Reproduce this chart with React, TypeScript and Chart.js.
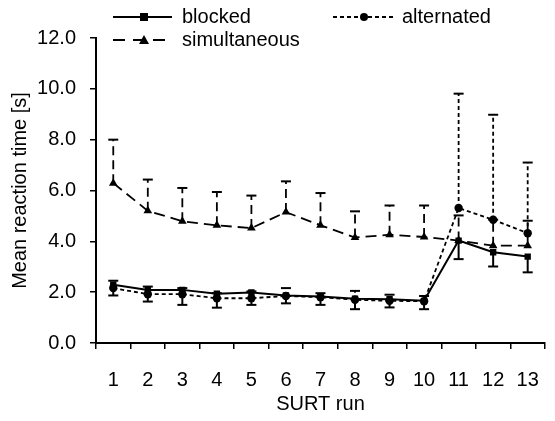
import React, { useEffect, useRef } from "react";
import { Chart, registerables } from "chart.js";

Chart.register(...registerables);

const runs = ["1", "2", "3", "4", "5", "6", "7", "8", "9", "10", "11", "12", "13"];
const blocked = [2.29, 2.09, 2.09, 1.94, 1.99, 1.87, 1.83, 1.74, 1.72, 1.66, 4.03, 3.57, 3.4];
const blockedLower = [1.87, 1.63, 1.5, 1.39, 1.5, 1.56, 1.5, 1.33, 1.4, 1.33, 3.3, 3.01, 2.78];
const alternated = [2.16, 1.92, 1.92, 1.76, 1.76, 1.85, 1.8, 1.7, 1.66, 1.64, 5.31, 4.85, 4.32];
const alternatedUpper = [2.45, 2.22, 2.16, 1.96, 2.03, 2.16, 1.96, 2.05, 1.9, 1.85, 9.81, 8.98, 7.1];
const simultaneous = [6.29, 5.2, 4.79, 4.63, 4.52, 5.15, 4.63, 4.15, 4.26, 4.17, 4.03, 3.83, 3.83];
const simultaneousUpper = [8.0, 6.43, 6.1, 5.94, 5.8, 6.36, 5.9, 5.18, 5.41, 5.41, 5.02, 4.85, 4.81];
const yMin = 0;
const yMax = 12;
const yStep = 2;

const FONT = "'Liberation Sans', Arial, sans-serif";
const FS = 20;

const errorBars = [
  { data: 0, ends: blockedLower, dash: [] as number[], width: 2 },
  { data: 1, ends: alternatedUpper, dash: [4, 3], width: 1.8 },
  { data: 2, ends: simultaneousUpper, dash: [9, 5], width: 1.8 },
];

const errorBarPlugin = {
  id: "errorBars",
  beforeDatasetsDraw(chart: any) {
    const { ctx, scales } = chart;
    const x = scales.x;
    const y = scales.y;
    ctx.save();
    ctx.strokeStyle = "#000";
    errorBars.forEach((eb) => {
      const vals = chart.data.datasets[eb.data].data as number[];
      vals.forEach((v, i) => {
        const px = x.getPixelForValue(i);
        const py0 = y.getPixelForValue(v);
        const py1 = y.getPixelForValue(eb.ends[i]);
        ctx.lineWidth = eb.width;
        ctx.setLineDash(eb.dash);
        ctx.beginPath();
        ctx.moveTo(px, py0);
        ctx.lineTo(px, py1);
        ctx.stroke();
        ctx.setLineDash([]);
        ctx.lineWidth = 2;
        ctx.beginPath();
        ctx.moveTo(px - 5, py1);
        ctx.lineTo(px + 5, py1);
        ctx.stroke();
      });
    });
    ctx.restore();
  },
};

const legendItems = [
  { label: "blocked", x: 113, y: 17, len: 59, dash: [] as number[], width: 2, style: "rect" },
  { label: "alternated", x: 333, y: 17, len: 62, dash: [4, 3], width: 1.8, style: "circle" },
  { label: "simultaneous", x: 113, y: 40, len: 60, dash: [12, 8], width: 1.8, style: "triangle" },
];

function drawMarker(ctx: CanvasRenderingContext2D, style: string, cx: number, cy: number) {
  ctx.fillStyle = "#000";
  ctx.beginPath();
  if (style === "rect") {
    ctx.rect(cx - 4, cy - 4, 8, 8);
  } else if (style === "circle") {
    ctx.arc(cx, cy, 4, 0, Math.PI * 2);
  } else {
    ctx.moveTo(cx, cy - 5);
    ctx.lineTo(cx + 5, cy + 4);
    ctx.lineTo(cx - 5, cy + 4);
    ctx.closePath();
  }
  ctx.fill();
}

const legendPlugin = {
  id: "customLegend",
  afterDraw(chart: any) {
    const { ctx } = chart;
    ctx.save();
    legendItems.forEach((it) => {
      ctx.strokeStyle = "#000";
      ctx.lineWidth = it.width;
      ctx.setLineDash(it.dash);
      ctx.beginPath();
      ctx.moveTo(it.x, it.y);
      ctx.lineTo(it.x + it.len, it.y);
      ctx.stroke();
      ctx.setLineDash([]);
      drawMarker(ctx, it.style, it.x + 31, it.y);
      ctx.fillStyle = "#000";
      ctx.font = `${FS}px ${FONT}`;
      ctx.textBaseline = "middle";
      ctx.textAlign = "left";
      ctx.fillText(it.label, it.x + 69, it.y);
    });
    ctx.restore();
  },
};

export default function App() {
  const ref = useRef<HTMLCanvasElement>(null);
  useEffect(() => {
    if (!ref.current) return;
    const common = {
      borderColor: "#000",
      pointBackgroundColor: "#000",
      pointBorderColor: "#000",
      pointBorderWidth: 0,
      tension: 0,
      fill: false,
    };
    const chart = new Chart(ref.current, {
      type: "line",
      data: {
        labels: runs,
        datasets: [
          { ...common, label: "blocked", data: blocked, borderWidth: 2, pointStyle: "rect", pointRadius: 4.5 },
          { ...common, label: "alternated", data: alternated, borderWidth: 1.8, borderDash: [4, 3], pointStyle: "circle", pointRadius: 4.2 },
          { ...common, label: "simultaneous", data: simultaneous, borderWidth: 1.8, borderDash: [11, 6], pointStyle: "triangle", pointRadius: 5 },
        ],
      },
      options: {
        responsive: false,
        devicePixelRatio: 1,
        animation: false,
        layout: { padding: { top: 38, right: 0, left: 0, bottom: 0 } },
        plugins: { legend: { display: false }, tooltip: { enabled: false } },
        scales: {
          x: {
            type: "category",
            offset: true,
            grid: { display: true, offset: true, drawOnChartArea: false, drawTicks: true, tickLength: 6, color: "#000", lineWidth: 1.5 },
            border: { display: true, color: "#000", width: 2 },
            ticks: { color: "#000", font: { family: FONT, size: FS }, padding: 19, maxRotation: 0, autoSkip: false },
            title: { display: true, text: "SURT run", color: "#000", font: { family: FONT, size: FS }, padding: { top: 0, bottom: 5 } },
            afterFit: (s: any) => { s.height = 78; },
          },
          y: {
            min: yMin,
            max: yMax,
            grid: { display: true, drawOnChartArea: false, drawTicks: true, tickLength: 6, color: "#000", lineWidth: 1.5 },
            border: { display: true, color: "#000", width: 2 },
            ticks: { stepSize: yStep, color: "#000", font: { family: FONT, size: FS }, padding: 14, callback: (v: any) => Number(v).toFixed(1) },
            title: { display: true, text: "Mean reaction time [s]", color: "#000", font: { family: FONT, size: FS }, padding: { top: 8, bottom: 0 } },
            afterFit: (s: any) => { s.width = 96; },
          },
        },
      },
      plugins: [errorBarPlugin, legendPlugin],
    } as any);
    return () => chart.destroy();
  }, []);
  return (
    <div style={{ position: "absolute", left: 0, top: 0, width: 555, height: 421, overflow: "hidden", background: "#fff" }}>
      <canvas ref={ref} width={558} height={421} style={{ display: "block" }} />
    </div>
  );
}
